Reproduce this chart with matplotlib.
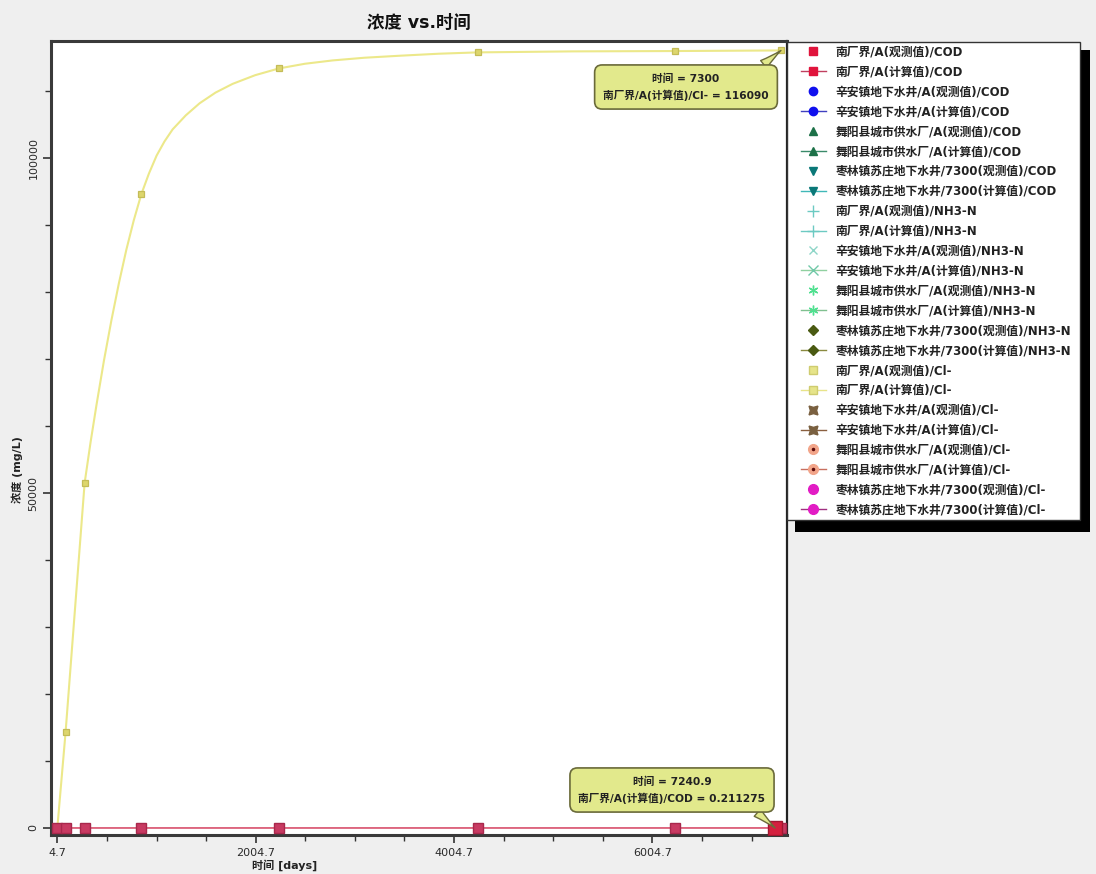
import matplotlib
matplotlib.use("Agg")
import matplotlib.pyplot as plt
from matplotlib.lines import Line2D
from matplotlib.patches import Rectangle
from matplotlib.legend_handler import HandlerTuple
from matplotlib.ticker import FixedLocator, MultipleLocator

plt.rcParams['font.family'] = ['DejaVu Sans', 'Noto Sans CJK SC']
MIX = ['DejaVu Sans', 'Noto Sans CJK SC']

# ---- data -------------------------------------------------------------
# sample times where markers are drawn (days)
marker_times = [4.7, 88, 280, 851, 2238, 4241, 6227, 7300]
# computed Cl- at the marker times (mg/L)
cl_marker_vals = [0, 14300, 51500, 94600, 113400, 115800, 116000, 116090]
# computed Cl- along the output time steps (mg/L)
cl_line_times = [4.7, 88, 280, 340, 400, 475, 550, 625, 700, 775, 851, 928,
                 1006, 1085, 1167, 1300, 1439, 1600, 1772, 2000, 2238, 2500,
                 2780, 3100, 3456, 3850, 4241, 5200, 6227, 7300]
cl_line_vals = [0, 14300, 51500, 57600, 63200, 69800, 75800, 81300, 86300,
                90700, 94600, 97700, 100400, 102500, 104300, 106400, 108200,
                109800, 111100, 112400, 113400, 114100, 114600, 115000, 115300,
                115600, 115800, 115950, 116000, 116090]
# computed COD at the marker times (mg/L)
cod_marker_vals = [0.0, 0.21, 0.21, 0.21, 0.21, 0.21, 0.211, 0.2113]
# probed points
probe_cod = (7240.9, 0.211275)
probe_cl = (7300, 116090)

x_major = [4.7, 2004.7, 4004.7, 6004.7]
x_tick_labels = ["4.7", "2004.7", "4004.7", "6004.7"]
y_major = [0, 50000, 100000]
y_tick_labels = ["0", "50000", "100000"]

legend_labels = [
    "南厂界/A(观测值)/COD", "南厂界/A(计算值)/COD",
    "辛安镇地下水井/A(观测值)/COD", "辛安镇地下水井/A(计算值)/COD",
    "舞阳县城市供水厂/A(观测值)/COD", "舞阳县城市供水厂/A(计算值)/COD",
    "枣林镇苏庄地下水井/7300(观测值)/COD", "枣林镇苏庄地下水井/7300(计算值)/COD",
    "南厂界/A(观测值)/NH3-N", "南厂界/A(计算值)/NH3-N",
    "辛安镇地下水井/A(观测值)/NH3-N", "辛安镇地下水井/A(计算值)/NH3-N",
    "舞阳县城市供水厂/A(观测值)/NH3-N", "舞阳县城市供水厂/A(计算值)/NH3-N",
    "枣林镇苏庄地下水井/7300(观测值)/NH3-N", "枣林镇苏庄地下水井/7300(计算值)/NH3-N",
    "南厂界/A(观测值)/Cl-", "南厂界/A(计算值)/Cl-",
    "辛安镇地下水井/A(观测值)/Cl-", "辛安镇地下水井/A(计算值)/Cl-",
    "舞阳县城市供水厂/A(观测值)/Cl-", "舞阳县城市供水厂/A(计算值)/Cl-",
    "枣林镇苏庄地下水井/7300(观测值)/Cl-", "枣林镇苏庄地下水井/7300(计算值)/Cl-",
]

# ---- figure -----------------------------------------------------------
BG = "#efefef"
fig = plt.figure(figsize=(10.96, 8.74), dpi=100, facecolor=BG)
W, H = 1096, 874
ax = fig.add_axes([51 / W, 1 - 835 / H, (787 - 51) / W, (835 - 41) / H])
ax.set_facecolor("white")

ax.set_xlim(-59, 7361)
ax.set_ylim(-1050, 117500)

# Cl- computed curve
ax.plot(cl_line_times, cl_line_vals, color="#ece88a", lw=1.5, zorder=2)
ax.plot(marker_times, cl_marker_vals, ls="none", marker="s", ms=4.8,
        mfc="#ddd66c", mec="#c4bc58", mew=0.9, zorder=3)

# COD computed curve
ax.plot(marker_times, cod_marker_vals, color="#d8506c", lw=1.2, zorder=4)
ax.plot(marker_times, cod_marker_vals, ls="none", marker="s", ms=6.5,
        mfc="#c83a62", mec="#a8284c", mew=1.0, zorder=5)
ax.plot([probe_cod[0]], [probe_cod[1]], ls="none", marker="s", ms=10,
        mfc="#d4203e", mec="#a01830", zorder=6)

# axes styling
for side in ["left", "bottom", "top"]:
    ax.spines[side].set_color("#3a3a3a")
    ax.spines[side].set_linewidth(2.2)
ax.spines["right"].set_color("#222222")
ax.spines["right"].set_linewidth(1.6)

ax.xaxis.set_major_locator(FixedLocator(x_major))
ax.set_xticklabels(x_tick_labels)
ax.xaxis.set_minor_locator(FixedLocator([4.7 + 500 * i for i in range(15)]))
ax.yaxis.set_major_locator(FixedLocator(y_major))
ax.set_yticklabels(y_tick_labels, rotation=90, va="center")
ax.yaxis.set_minor_locator(MultipleLocator(10000))
ax.tick_params(axis="both", which="major", length=6, width=1.2, color="#333333",
               labelsize=8, labelcolor="#2a2a2a", pad=3)
ax.tick_params(axis="both", which="minor", length=4, width=1.0, color="#333333")

ax.set_title("浓度 vs.时间", fontsize=12.5, fontweight="bold", pad=9.5,
             color="#111111", family=MIX)
ax.set_xlabel("时间 [days]", fontsize=8, fontweight="bold", color="#222222", family=MIX)
ax.xaxis.set_label_coords(0.318, -0.03)
ax.set_ylabel("浓度 (mg/L)", fontsize=8, fontweight="bold", color="#222222", family=MIX)
ax.yaxis.set_label_coords(-0.038, 0.46)

# probe call-outs
box_fc = "#e2e98c"
box_ec = "#6a6a3a"
callout = dict(ha="center", va="center", fontsize=7.7, fontweight="bold",
               color="#222222", zorder=8, family=MIX, linespacing=1.55)
ax.annotate("时间 = 7300\n南厂界/A(计算值)/Cl- = 116090",
            xy=probe_cl, xycoords="data",
            xytext=(686, H - 87), textcoords="figure pixels",
            bbox=dict(boxstyle="round,pad=0.8,rounding_size=0.7",
                      fc=box_fc, ec=box_ec, lw=1.2),
            arrowprops=dict(arrowstyle="wedge,tail_width=0.9,shrink_factor=0.4",
                            fc=box_fc, ec=box_ec, lw=1.0, relpos=(0.9, 1.0),
                            shrinkA=0, shrinkB=0),
            **callout)
ax.annotate("时间 = 7240.9\n南厂界/A(计算值)/COD = 0.211275",
            xy=probe_cod, xycoords="data",
            xytext=(672, H - 790), textcoords="figure pixels",
            bbox=dict(boxstyle="round,pad=0.8,rounding_size=0.7",
                      fc=box_fc, ec=box_ec, lw=1.2),
            arrowprops=dict(arrowstyle="wedge,tail_width=0.9,shrink_factor=0.4",
                            fc=box_fc, ec=box_ec, lw=1.0, relpos=(0.9, 0.0),
                            shrinkA=0, shrinkB=0),
            **callout)

# ---- legend -----------------------------------------------------------
def obs(marker, color, ms=6, mec=None, mew=1.0, mfc=None):
    return Line2D([], [], ls="none", marker=marker, ms=ms,
                  mfc=color if mfc is None else mfc,
                  mec=color if mec is None else mec, mew=mew)


def calc(marker, color, lc, ms=6, mec=None, mew=1.0, mfc=None):
    return Line2D([], [], ls="-", color=lc, lw=1.0, marker=marker, ms=ms,
                  mfc=color if mfc is None else mfc,
                  mec=color if mec is None else mec, mew=mew)


bowtie = (4, 1, 45)
asterisk = (6, 2, 0)
ring_in = "#5a0a0a"
ring_c = "#f2a58a"
handles = [
    obs("s", "#e0143c"), calc("s", "#e0143c", "#c04060"),
    obs("o", "#1010ee"), calc("o", "#1010ee", "#4040c0"),
    obs("^", "#1d7148"), calc("^", "#1d7148", "#3a8a6a"),
    obs("v", "#0a7878"), calc("v", "#0a7878", "#40b8b8"),
    obs("+", "#6ccac2", ms=8), calc("+", "#6ccac2", "#6ccac2", ms=8),
    obs("x", "#8fd6c8", ms=6), calc("x", "#70c8a8", "#90d0a0", ms=7),
    obs(asterisk, "#50e090", ms=7), calc(asterisk, "#50e090", "#80c090", ms=7),
    obs("D", "#4a5a12", ms=5), calc("D", "#4a5a12", "#8a8a40", ms=5),
    obs("s", "#e6e48a", ms=5.5, mec="#cfcc70"),
    calc("s", "#e6e48a", "#e8e48a", ms=5.5, mec="#cfcc70"),
    obs(bowtie, "#7a6040", ms=9), calc(bowtie, "#7a6040", "#8a6040", ms=9),
    (obs("o", ring_c, ms=7), obs(".", ring_in, ms=3)),
    (calc("o", ring_c, "#c87060", ms=7), obs(".", ring_in, ms=3)),
    obs("o", "#e21cc4", ms=7), calc("o", "#e21cc4", "#a03080", ms=7),
]

# legend box with heavy drop shadow
fig.patches.append(Rectangle((795 / W, 1 - 532 / H), (1090 - 795) / W, (532 - 50) / H,
                             transform=fig.transFigure, fc="black", ec="none",
                             zorder=1))
fig.patches.append(Rectangle((787 / W, 1 - 520 / H), (1080 - 787) / W, (520 - 42) / H,
                             transform=fig.transFigure, fc="white", ec="#333333",
                             lw=1.0, zorder=2))

leg = fig.legend(handles, legend_labels, loc="upper left",
                 bbox_to_anchor=(801 / W, 1 - 45.5 / H), bbox_transform=fig.transFigure,
                 borderaxespad=0, borderpad=0, frameon=False,
                 prop=dict(family=MIX, size=8.5, weight="bold"),
                 handlelength=2.1, handletextpad=0.8, labelspacing=0.585,
                 markerscale=1.0,
                 handler_map={tuple: HandlerTuple(ndivide=1, pad=0)})
leg.set_zorder(5)
for t in leg.get_texts():
    t.set_color("#222222")

fig.savefig("out.png", dpi=100, facecolor=BG)
